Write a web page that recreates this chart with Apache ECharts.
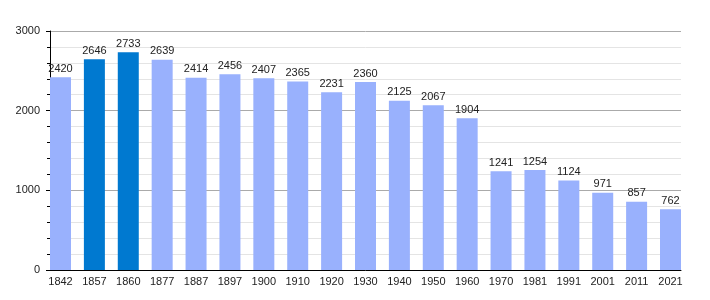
<!DOCTYPE html>
<html>
<head>
<meta charset="utf-8">
<script src="https://cdn.jsdelivr.net/npm/echarts@6/dist/echarts.min.js"></script>
<style>html,body{margin:0;padding:0;background:#fff}#c{width:710px;height:300px}</style>
</head>
<body>
<div id="c"></div>
<script>
const categories = ['1842','1857','1860','1877','1887','1897','1900','1910','1920','1930','1940','1950','1960','1970','1981','1991','2001','2011','2021'];
const population = [2420,2646,2733,2639,2414,2456,2407,2365,2231,2360,2125,2067,1904,1241,1254,1124,971,857,762];
const highlighted = ['1857','1860'];
const yTicks = [0,1000,2000,3000];

const chart = echarts.init(document.getElementById('c'), null, {renderer:'canvas'});
const font = 'Liberation Sans, Arial, sans-serif';
chart.setOption({
  animation:false,
  backgroundColor:'#fff',
  grid:[
    {left:50, right:29, top:31, bottom:30},
    {left:60.5, right:39.5, top:31, bottom:30}
  ],
  xAxis:[
    {type:'category', gridIndex:0, data:categories, boundaryGap:true,
     axisLine:{show:true, lineStyle:{color:'#000', width:1}},
     axisTick:{show:false}, axisLabel:{show:false}, splitLine:{show:false}},
    {type:'category', gridIndex:1, data:categories, boundaryGap:false,
     axisLine:{show:false}, axisTick:{show:false},
     axisLabel:{show:true, color:'#222', fontSize:11, fontFamily:font, margin:6}}
  ],
  yAxis:[
    {type:'value', gridIndex:0, min:yTicks[0], max:yTicks[yTicks.length-1], interval:1000,
     axisLine:{show:true, lineStyle:{color:'#000', width:1}},
     axisTick:{show:true, length:4, lineStyle:{color:'#000'}},
     minorTick:{show:true, splitNumber:5, length:3, lineStyle:{color:'#000'}},
     axisLabel:{color:'#222', fontSize:11, fontFamily:font, margin:10, formatter:(v)=>String(v)},
     splitLine:{show:true, lineStyle:{color:'#aaa', width:1}},
     minorSplitLine:{show:true, lineStyle:{color:'#e4e4e4', width:1}}},
    {type:'value', gridIndex:1, min:yTicks[0], max:yTicks[yTicks.length-1], show:false,
     splitLine:{show:false}}
  ],
  series:[{
    type:'bar', xAxisIndex:1, yAxisIndex:1, barWidth:21,
    data: population.map((v,i)=>({value:v, itemStyle:{color: highlighted.includes(categories[i]) ? '#0079d0' : '#99b1fd'}})),
    label:{show:true, position:'top', distance:3, color:'#222', fontSize:11, fontFamily:font}
  }]
});
</script>
</body>
</html>
